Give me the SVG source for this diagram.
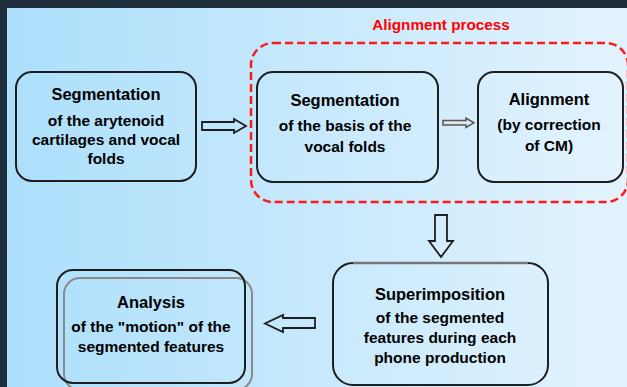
<svg xmlns="http://www.w3.org/2000/svg" width="627" height="387" viewBox="0 0 627 387">
<defs>
<linearGradient id="bg" x1="0" y1="0" x2="1" y2="0">
<stop offset="0" stop-color="#acdffb"/>
<stop offset="1" stop-color="#e3f3fe"/>
</linearGradient>
</defs>
<style>
.box{fill:none;stroke:#1e1e1e;stroke-width:2}
.t{font-family:"Liberation Sans",Arial,sans-serif;font-weight:bold;fill:#000;text-anchor:middle}
.h{font-size:16.5px}
.s{font-size:15.5px}
.arr{fill:none;stroke:#1e1e1e;stroke-width:1.8;stroke-linejoin:miter}
</style>
<rect x="0" y="0" width="627" height="387" fill="#1f2e3b"/>
<rect x="7" y="8" width="620" height="379" fill="url(#bg)"/>
<g id="group-alignment">
<rect x="251" y="43" width="377" height="159" rx="22" fill="none" stroke="#ff1a1a" stroke-width="2.5" stroke-dasharray="8 4"/>
<text x="441" y="30" font-family="Liberation Sans,Arial,sans-serif" font-weight="bold" font-size="15.3px" fill="#ff0000" text-anchor="middle">Alignment process</text>
</g>
<g id="node-seg1">
<rect class="box" x="16" y="72" width="180" height="109" rx="16"/>
<text class="t h" x="106" y="100">Segmentation</text>
<text class="t s" x="106" y="126">of the arytenoid</text>
<text class="t s" x="106" y="145">cartilages and vocal</text>
<text class="t s" x="106" y="164">folds</text>
</g>
<g id="node-seg2">
<rect class="box" x="257" y="72" width="181" height="110" rx="16"/>
<text class="t h" x="345" y="106">Segmentation</text>
<text class="t s" x="345" y="131">of the basis of the</text>
<text class="t s" x="345" y="152">vocal folds</text>
</g>
<g id="node-align">
<rect class="box" x="478" y="72" width="145" height="110" rx="16"/>
<text class="t h" x="549" y="105">Alignment</text>
<text class="t s" x="549" y="130">(by correction</text>
<text class="t s" x="549" y="151">of CM)</text>
</g>
<g id="node-super">
<rect class="box" x="333" y="263" width="215" height="122" rx="20"/>
<line x1="353" y1="263" x2="528" y2="263" stroke="#777" stroke-width="2.5"/>
<text class="t h" x="440" y="300">Superimposition</text>
<text class="t s" x="440" y="323">of the segmented</text>
<text class="t s" x="440" y="343">features during each</text>
<text class="t s" x="440" y="363">phone production</text>
</g>
<g id="node-analysis">
<rect x="64" y="278" width="188" height="112" rx="16" fill="none" stroke="#8a8a8a" stroke-width="2"/>
<rect class="box" x="57" y="270" width="188" height="113" rx="16"/>
<text class="t h" x="151" y="308">Analysis</text>
<text class="t s" x="151" y="332">of the "motion" of the</text>
<text class="t s" x="151" y="352">segmented features</text>
</g>
<g id="connectors">
<polygon class="arr" points="202,122 234,122 234,119 246,126 234,133 234,130 202,130"/>
<polygon points="443,120.5 466,120.5 466,118 474,122.8 466,127.5 466,125 443,125" fill="#e0e6ea" stroke="#555" stroke-width="1.5"/>
<polygon class="arr" points="435,215 447,215 447,241 453,241 441,257 429,241 435,241"/>
<polygon class="arr" points="315,318 283,318 283,315 265,323.5 283,332 283,328 315,328"/>
</g>
</svg>
